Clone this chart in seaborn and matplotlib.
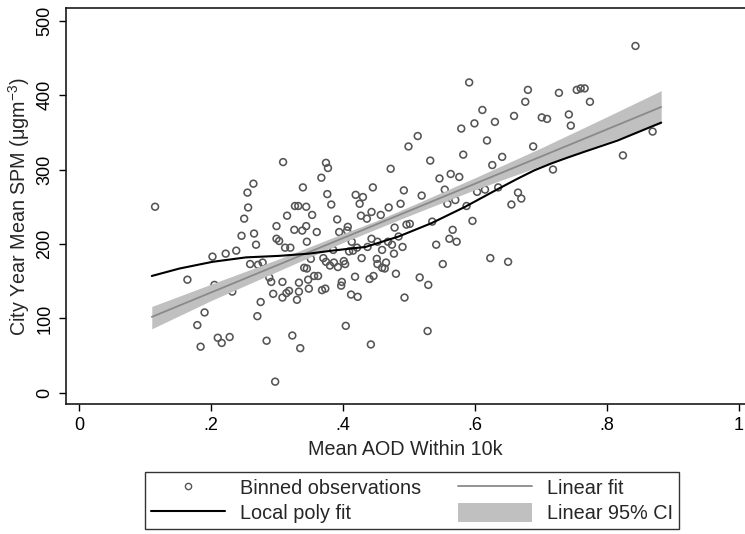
import matplotlib
matplotlib.use("Agg")
import matplotlib.pyplot as plt
from matplotlib.lines import Line2D
from matplotlib.patches import Patch
import seaborn as sns
import numpy as np

# ---- data ----
aod = [.843, .591, .611, .579, .599, .630, .659, .676, .680, .618, .641, .626, .582, .513, .499,
       .532, .472, .374, .377, .367, .339, .376, .419, .430, .445, .492, .519, .546, .563, .576,
       .554, .603, .615, .635, .665, .670, .309, .264, .255, .727, .754, .760, .766, .774, .701,
       .709, .742, .745, .688, .718, .824, .869, .115, .256, .250, .246, .265, .268, .299, .315,
       .327, .332, .344, .338, .326, .344, .345, .299, .303, .312, .320, .238, .222, .202, .259,
       .271, .278, .164, .205, .232, .190, .179, .275, .270, .294, .308, .314, .318, .308, .330,
       .333, .333, .341, .345, .347, .348, .288, .291, .210, .216, .228, .184, .284, .323, .335,
       .297, .425, .382, .353, .443, .427, .457, .469, .487, .436, .391, .360, .394, .407, .406,
       .413, .385, .409, .415, .421, .437, .443, .452, .468, .474, .484, .490, .478, .496, .501,
       .459, .477, .428, .451, .452, .465, .459, .463, .370, .351, .374, .380, .386, .392, .401,
       .403, .356, .362, .368, .373, .397, .398, .418, .440, .446, .480, .516, .529, .412, .422,
       .493, .404, .528, .442, .535, .541, .551, .561, .566, .572, .558, .570, .587, .596, .623,
       .650, .655]
spm = [466, 417, 380, 355, 362, 364, 372, 391, 407, 339, 317, 306, 320, 345, 331,
       312, 301, 309, 302, 289, 276, 267, 266, 263, 276, 272, 265, 288, 294, 290,
       273, 270, 273, 276, 269, 261, 310, 281, 269, 403, 407, 409, 409, 391, 370,
       368, 374, 359, 331, 300, 319, 351, 250, 249, 234, 211, 214, 199, 224, 238,
       251, 251, 250, 218, 219, 224, 203, 207, 204, 195, 195, 191, 187, 183, 173,
       172, 175, 152, 145, 136, 108, 91, 122, 103, 133, 149, 134, 137, 128, 125,
       136, 148, 168, 167, 152, 140, 155, 149, 74, 67, 75, 62, 70, 77, 60,
       15, 254, 253, 239, 243, 238, 239, 249, 254, 234, 233, 216, 216, 223, 218,
       203, 192, 190, 191, 195, 196, 207, 203, 203, 199, 210, 196, 222, 226, 227,
       192, 187, 181, 180, 173, 175, 168, 167, 181, 180, 176, 171, 175, 169, 177,
       173, 157, 157, 138, 140, 144, 149, 156, 153, 157, 160, 155, 145, 132, 129,
       128, 90, 83, 65, 230, 199, 173, 207, 219, 203, 254, 259, 251, 231, 181,
       176, 253]

# local polynomial fit (read)
lp_x = [.110, .152, .202, .253, .303, .348, .383, .434, .484, .534, .585, .635, .665, .690, .715, .740, .766, .816, .882]
lp_y = [157, 167, 176, 182, 184, 187, 191, 196, 210, 228, 250, 274, 288, 299, 308, 316, 324, 339, 363]

# linear fit (read)
fit_x = [.110, .882]
fit_y = [102, 384]

# linear 95% CI (read)
ci_x = [.110, .200, .300, .400, .450, .500, .600, .700, .800, .882]
ci_lo = [86, 124, 163, 202, 220, 238, 273, 305, 337, 362]
ci_hi = [116, 146, 179, 214, 231, 250, 289, 329, 371, 406]

xticks = [0, .2, .4, .6, .8, 1]
xtick_labels = ["0", ".2", ".4", ".6", ".8", "1"]
yticks = [0, 100, 200, 300, 400, 500]
ytick_labels = ["0", "100", "200", "300", "400", "500"]

# ---- style ----
sns.set_theme(style="white")
plt.rcParams["font.family"] = ["Liberation Sans", "DejaVu Sans"]
plt.rcParams["mathtext.fontset"] = "custom"
plt.rcParams["mathtext.rm"] = "Liberation Sans"
plt.rcParams["mathtext.it"] = "Liberation Sans"
plt.rcParams["mathtext.default"] = "regular"

W, H = 745, 534
fig = plt.figure(figsize=(W / 100, H / 100), dpi=100)
ax = fig.add_axes([66 / W, 1 - 404 / H, (745 - 66) / W, (404 - 8) / H])

sns.scatterplot(x=aod, y=spm, ax=ax, marker="o", s=24, facecolor="none",
                edgecolor="#555555", linewidth=1.15, zorder=2)
ax.fill_between(ci_x, ci_lo, ci_hi, color="#c0c0c0", lw=0, zorder=3)
sns.lineplot(x=fit_x, y=fit_y, ax=ax, color="#8a8a8a", lw=1.3, zorder=4)
sns.lineplot(x=lp_x, y=lp_y, ax=ax, color="black", lw=1.5, zorder=5)

ax.set_xlim(-0.02, 1.009)
ax.set_ylim(-15, 517)
ax.set_xticks(xticks)
ax.set_xticklabels(xtick_labels)
ax.set_yticks(yticks)
ax.set_yticklabels(ytick_labels, rotation=90, va="center")
ax.tick_params(direction="out", length=5, width=1, colors="black", labelsize=13, pad=4)
ax.tick_params(axis="both", which="both", bottom=True, left=True)

for s in ["left", "bottom", "top"]:
    ax.spines[s].set_visible(True)
    ax.spines[s].set_color("#1a1a1a")
    ax.spines[s].set_linewidth(1.2)
ax.spines["right"].set_visible(False)

ax.set_xlabel("Mean AOD Within 10k", fontsize=14.2, labelpad=5)
ax.set_ylabel("City Year Mean SPM (μgm$^{-3}$)", fontsize=14.2, labelpad=3)

handles = [
    Line2D([], [], ls="none", marker="o", markersize=4.5, markerfacecolor="none",
           markeredgecolor="#555555", markeredgewidth=1.0),
    Line2D([], [], color="black", lw=1.5),
    Line2D([], [], color="#8a8a8a", lw=1.3),
    Patch(facecolor="#c0c0c0", edgecolor="none"),
]
labels = ["Binned observations", "Local poly fit", "Linear fit", "Linear 95% CI"]
leg = fig.legend(handles, labels, ncol=2, loc="center",
                 bbox_to_anchor=((144 + 680) / 2 / W, 1 - (468 + 533) / 2 / H),
                 fontsize=14.3, frameon=True, fancybox=False, edgecolor="black",
                 handlelength=3.7, handleheight=1.05, handletextpad=0.75,
                 columnspacing=1.9, labelspacing=0.3, borderpad=0.3, borderaxespad=0)
leg.get_frame().set_linewidth(1.0)

fig.savefig("out.png", dpi=100)
